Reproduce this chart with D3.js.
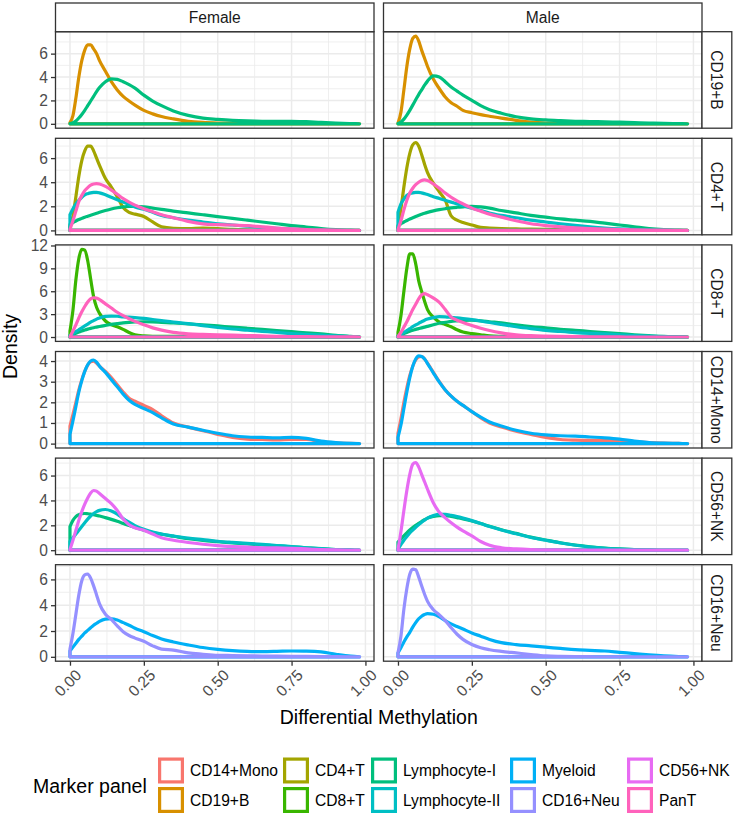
<!DOCTYPE html>
<html>
<head>
<meta charset="utf-8">
<script src="https://cdn.jsdelivr.net/npm/d3@7"></script>
<style>
  html, body { margin: 0; padding: 0; background: #fff; }
  svg { display: block; font-family: "Liberation Sans", Arial, sans-serif; }
</style>
</head>
<body>
<svg id="chart" width="735" height="815"></svg>
<script>
// ---------------- DATA ----------------
const sexes = ["Female", "Male"];
const markerPanels = ["CD19+B", "CD4+T", "CD8+T", "CD14+Mono", "CD56+NK", "CD16+Neu"];
const groups = ["CD14+Mono", "CD19+B", "CD4+T", "CD8+T", "Lymphocyte-I", "Lymphocyte-II", "Myeloid", "CD16+Neu", "CD56+NK", "PanT"];
const groupColors = ["#F8766D", "#D89000", "#A3A500", "#39B600", "#00BF7D", "#00BFC4", "#00B0F6", "#9590FF", "#E76BF3", "#FF62BC"];
const xTicks = [0, 0.25, 0.5, 0.75, 1];
const xTickLabels = ["0.00", "0.25", "0.50", "0.75", "1.00"];
const yTicksByRow = [[0, 2, 4, 6], [0, 2, 4, 6], [0, 3, 6, 9, 12], [0, 1, 2, 3, 4], [0, 2, 4, 6], [0, 2, 4, 6]];

// shared x grid (differential methylation)
const xs = [0, .01, .02, .03, .04, .05, .06, .07, .08, .09, .10, .12, .14, .16, .18, .20, .22, .25, .28, .31, .35, .40, .45, .50, .55, .60, .65, .70, .75, .80, .85, .90, .95, .98];

// Row CD19+B
const F1_CD19B = [0.1, 0.7, 2.2, 4.0, 5.4, 6.3, 6.75, 6.75, 6.4, 6.0, 5.4, 4.5, 3.6, 2.9, 2.35, 1.95, 1.6, 1.15, 0.85, 0.62, 0.42, 0.22, 0.12, 0.07, 0.05, 0.04, 0.03, 0.03, 0.02, 0.02, 0.01, 0.01, 0, 0];
const F1_LymI  = [0.02, 0.1, 0.25, 0.5, 0.8, 1.15, 1.55, 1.95, 2.35, 2.75, 3.1, 3.6, 3.85, 3.8, 3.6, 3.35, 3.05, 2.45, 1.95, 1.55, 1.1, 0.72, 0.48, 0.38, 0.3, 0.25, 0.22, 0.2, 0.22, 0.18, 0.12, 0.06, 0.02, 0];
const M1_CD19B = [0.05, 1.0, 2.9, 4.9, 6.4, 7.3, 7.5, 7.1, 6.3, 5.6, 4.9, 3.8, 3.0, 2.3, 1.8, 1.5, 1.15, 0.95, 0.78, 0.65, 0.48, 0.3, 0.15, 0.07, 0.05, 0.04, 0.03, 0.03, 0.02, 0.02, 0.01, 0.01, 0, 0];
const M1_LymI  = [0.02, 0.15, 0.4, 0.75, 1.15, 1.6, 2.05, 2.5, 2.9, 3.3, 3.65, 4.1, 4.0, 3.6, 3.15, 2.8, 2.45, 2.0, 1.55, 1.2, 0.9, 0.6, 0.42, 0.33, 0.27, 0.22, 0.19, 0.17, 0.14, 0.1, 0.07, 0.04, 0.02, 0];

// Row CD4+T
const F2_CD4T  = [0.3, 1.2, 2.8, 4.5, 5.8, 6.6, 7.0, 7.0, 6.6, 6.0, 5.4, 4.3, 3.6, 2.8, 1.9, 1.5, 1.35, 1.15, 0.7, 0.3, 0.18, 0.15, 0.2, 0.15, 0.08, 0.04, 0.02, 0.01, 0.01, 0, 0, 0, 0, 0];
const F2_LymI  = [0.5, 0.65, 0.78, 0.9, 1.0, 1.1, 1.18, 1.26, 1.34, 1.42, 1.5, 1.65, 1.78, 1.88, 1.95, 2.0, 2.0, 1.95, 1.85, 1.75, 1.6, 1.45, 1.3, 1.15, 1.0, 0.85, 0.7, 0.55, 0.4, 0.28, 0.15, 0.06, 0.02, 0];
const F2_LymII = [1.3, 1.8, 2.2, 2.5, 2.75, 2.95, 3.05, 3.12, 3.15, 3.16, 3.12, 2.95, 2.75, 2.55, 2.35, 2.15, 1.95, 1.75, 1.5, 1.25, 1.05, 0.85, 0.7, 0.55, 0.45, 0.35, 0.25, 0.17, 0.1, 0.05, 0.02, 0.01, 0, 0];
const F2_PanT  = [0.1, 0.8, 1.6, 2.4, 2.9, 3.3, 3.55, 3.75, 3.85, 3.88, 3.85, 3.65, 3.35, 3.0, 2.65, 2.35, 2.1, 1.8, 1.55, 1.3, 1.05, 0.75, 0.55, 0.48, 0.45, 0.4, 0.3, 0.2, 0.12, 0.07, 0.04, 0.02, 0.01, 0];
const M2_CD4T  = [0.2, 1.8, 3.6, 5.2, 6.4, 7.1, 7.28, 7.0, 6.3, 5.5, 4.8, 3.9, 3.2, 2.5, 1.2, 0.85, 0.65, 0.45, 0.25, 0.2, 0.15, 0.12, 0.1, 0.08, 0.06, 0.04, 0.03, 0.02, 0.01, 0, 0, 0, 0, 0];
const M2_LymI  = [0.4, 0.55, 0.7, 0.82, 0.95, 1.05, 1.15, 1.25, 1.35, 1.43, 1.5, 1.62, 1.72, 1.8, 1.87, 1.92, 1.96, 2.0, 1.95, 1.85, 1.65, 1.45, 1.25, 1.1, 0.95, 0.85, 0.75, 0.6, 0.45, 0.3, 0.15, 0.06, 0.02, 0];
const M2_LymII = [1.5, 2.2, 2.6, 2.9, 3.05, 3.12, 3.15, 3.16, 3.12, 3.05, 2.98, 2.8, 2.65, 2.5, 2.35, 2.2, 2.05, 1.85, 1.65, 1.45, 1.25, 1.05, 0.85, 0.7, 0.55, 0.42, 0.3, 0.2, 0.13, 0.08, 0.04, 0.02, 0.01, 0];
const M2_PanT  = [0.05, 0.8, 1.7, 2.5, 3.1, 3.5, 3.8, 4.0, 4.15, 4.2, 4.15, 3.85, 3.5, 3.1, 2.75, 2.45, 2.2, 1.85, 1.6, 1.35, 1.1, 0.8, 0.55, 0.4, 0.3, 0.22, 0.15, 0.1, 0.07, 0.05, 0.03, 0.02, 0.01, 0];

// Row CD8+T
const F3_CD8T  = [0.8, 3.5, 7.5, 10.3, 11.5, 11.4, 10.0, 7.6, 5.3, 3.9, 3.1, 2.1, 1.6, 1.35, 1.0, 0.6, 0.3, 0.15, 0.1, 0.1, 0.08, 0.04, 0.02, 0.01, 0, 0, 0, 0, 0, 0, 0, 0, 0, 0];
const F3_LymI  = [0.2, 0.35, 0.5, 0.65, 0.8, 0.92, 1.03, 1.13, 1.22, 1.3, 1.38, 1.52, 1.65, 1.75, 1.85, 1.92, 1.97, 2.0, 1.98, 1.92, 1.85, 1.72, 1.6, 1.45, 1.3, 1.15, 1.0, 0.85, 0.7, 0.55, 0.4, 0.22, 0.08, 0];
const F3_LymII = [0.2, 0.45, 0.7, 0.95, 1.2, 1.45, 1.7, 1.95, 2.15, 2.35, 2.5, 2.7, 2.75, 2.72, 2.65, 2.6, 2.55, 2.45, 2.3, 2.15, 1.95, 1.75, 1.5, 1.25, 1.05, 0.9, 0.75, 0.6, 0.45, 0.35, 0.25, 0.14, 0.05, 0];
const F3_PanT  = [0.05, 0.8, 1.6, 2.5, 3.3, 4.0, 4.6, 5.0, 5.15, 5.1, 4.9, 4.35, 3.8, 3.25, 2.8, 2.4, 2.05, 1.6, 1.2, 0.9, 0.6, 0.42, 0.35, 0.3, 0.25, 0.2, 0.15, 0.1, 0.07, 0.05, 0.03, 0.02, 0.01, 0];
const M3_CD8T  = [0.6, 2.8, 6.0, 9.0, 10.9, 10.9, 9.6, 7.4, 6.0, 4.7, 3.6, 2.6, 1.95, 1.65, 1.35, 0.95, 0.65, 0.45, 0.3, 0.15, 0.08, 0.04, 0.02, 0.01, 0, 0, 0, 0, 0, 0, 0, 0, 0, 0];
const M3_LymI  = [0.15, 0.3, 0.45, 0.6, 0.75, 0.88, 1.0, 1.1, 1.2, 1.3, 1.4, 1.6, 1.8, 1.92, 2.05, 2.12, 2.18, 2.2, 2.12, 2.0, 1.85, 1.6, 1.38, 1.2, 1.02, 0.88, 0.72, 0.58, 0.45, 0.3, 0.18, 0.08, 0.03, 0];
const M3_LymII = [0.1, 0.35, 0.6, 0.85, 1.1, 1.35, 1.58, 1.8, 2.0, 2.2, 2.35, 2.55, 2.67, 2.65, 2.58, 2.5, 2.42, 2.28, 2.1, 1.9, 1.65, 1.35, 1.1, 0.88, 0.72, 0.58, 0.48, 0.42, 0.3, 0.2, 0.12, 0.06, 0.02, 0];
const M3_PanT  = [0.05, 0.6, 1.3, 2.0, 2.8, 3.6, 4.3, 5.0, 5.5, 5.68, 5.55, 5.1, 4.55, 3.6, 2.6, 2.2, 1.9, 1.5, 1.15, 0.85, 0.55, 0.3, 0.18, 0.12, 0.08, 0.05, 0.03, 0.02, 0.01, 0, 0, 0, 0, 0];

// Row CD14+Mono
const F4_CD14  = [0.85, 1.4, 2.0, 2.6, 3.1, 3.5, 3.8, 3.97, 4.0, 3.9, 3.75, 3.5, 3.2, 2.85, 2.5, 2.2, 2.05, 1.85, 1.65, 1.35, 1.0, 0.8, 0.62, 0.45, 0.3, 0.22, 0.2, 0.18, 0.2, 0.2, 0.1, 0.04, 0.01, 0];
const F4_Mye   = [0.45, 1.1, 1.8, 2.5, 3.05, 3.5, 3.82, 4.0, 4.05, 3.95, 3.75, 3.45, 3.1, 2.75, 2.4, 2.1, 1.9, 1.7, 1.5, 1.25, 0.95, 0.8, 0.65, 0.5, 0.38, 0.32, 0.3, 0.28, 0.3, 0.25, 0.12, 0.05, 0.01, 0];
const M4_CD14  = [0.5, 1.2, 2.0, 2.7, 3.3, 3.75, 4.05, 4.2, 4.22, 4.1, 3.9, 3.45, 3.0, 2.6, 2.3, 2.05, 1.85, 1.55, 1.25, 1.0, 0.8, 0.6, 0.45, 0.3, 0.2, 0.17, 0.16, 0.16, 0.14, 0.1, 0.05, 0.02, 0.01, 0];
const M4_Mye   = [0.3, 0.9, 1.7, 2.5, 3.2, 3.75, 4.1, 4.25, 4.22, 4.1, 3.88, 3.42, 2.98, 2.6, 2.3, 2.05, 1.85, 1.55, 1.28, 1.05, 0.85, 0.65, 0.5, 0.42, 0.38, 0.36, 0.32, 0.28, 0.22, 0.12, 0.05, 0.02, 0.01, 0];

// Row CD56+NK
const F5_LymI  = [1.9, 2.4, 2.7, 2.85, 2.93, 2.95, 2.93, 2.9, 2.85, 2.8, 2.75, 2.62, 2.48, 2.32, 2.15, 1.98, 1.82, 1.6, 1.42, 1.28, 1.12, 0.92, 0.78, 0.68, 0.58, 0.5, 0.42, 0.35, 0.28, 0.2, 0.12, 0.05, 0.02, 0];
const F5_LymII = [0.7, 1.0, 1.3, 1.6, 1.9, 2.2, 2.5, 2.75, 2.95, 3.1, 3.2, 3.27, 3.15, 2.9, 2.55, 2.25, 1.98, 1.68, 1.45, 1.3, 1.15, 0.98, 0.85, 0.72, 0.63, 0.55, 0.47, 0.38, 0.3, 0.2, 0.12, 0.05, 0.02, 0];
const F5_CD56  = [0.05, 0.8, 1.6, 2.4, 3.1, 3.7, 4.2, 4.6, 4.8, 4.75, 4.55, 4.15, 3.75, 3.2, 2.5, 2.05, 1.8, 1.6, 1.3, 1.0, 0.8, 0.62, 0.48, 0.37, 0.3, 0.25, 0.2, 0.18, 0.15, 0.1, 0.05, 0.02, 0.01, 0];
const M5_LymI  = [0.65, 0.9, 1.15, 1.4, 1.62, 1.82, 2.0, 2.15, 2.3, 2.45, 2.58, 2.72, 2.78, 2.78, 2.72, 2.62, 2.52, 2.35, 2.15, 1.92, 1.65, 1.35, 1.05, 0.82, 0.6, 0.42, 0.28, 0.17, 0.1, 0.05, 0.02, 0.01, 0, 0];
const M5_LymII = [0.1, 0.45, 0.8, 1.1, 1.38, 1.62, 1.85, 2.05, 2.25, 2.42, 2.58, 2.78, 2.88, 2.88, 2.8, 2.7, 2.58, 2.38, 2.15, 1.9, 1.62, 1.32, 1.02, 0.8, 0.58, 0.4, 0.25, 0.15, 0.08, 0.04, 0.02, 0.01, 0, 0];
const M5_CD56  = [0.05, 1.5, 3.2, 4.8, 6.1, 6.9, 7.05, 6.7, 6.1, 5.5, 4.9, 3.8, 3.05, 2.6, 2.2, 1.85, 1.55, 1.15, 0.7, 0.4, 0.2, 0.1, 0.05, 0.03, 0.02, 0.01, 0, 0, 0, 0, 0, 0, 0, 0];

// Row CD16+Neu
const F6_Mye   = [0.45, 0.75, 1.05, 1.35, 1.6, 1.85, 2.05, 2.25, 2.45, 2.6, 2.75, 2.92, 2.95, 2.85, 2.65, 2.45, 2.22, 1.95, 1.65, 1.38, 1.15, 0.92, 0.72, 0.58, 0.48, 0.42, 0.4, 0.42, 0.45, 0.44, 0.38, 0.2, 0.05, 0];
const F6_CD16  = [0.6, 1.8, 3.3, 4.8, 5.9, 6.35, 6.42, 6.1, 5.5, 4.8, 4.1, 3.3, 2.9, 2.4, 1.95, 1.65, 1.45, 1.2, 0.85, 0.6, 0.52, 0.3, 0.2, 0.12, 0.1, 0.08, 0.06, 0.05, 0.04, 0.03, 0.02, 0.01, 0, 0];
const M6_Mye   = [0.3, 0.7, 1.15, 1.55, 1.9, 2.3, 2.65, 2.95, 3.15, 3.28, 3.35, 3.3, 3.1, 2.8, 2.55, 2.35, 2.15, 1.85, 1.6, 1.35, 1.1, 0.95, 0.85, 0.75, 0.65, 0.55, 0.5, 0.45, 0.35, 0.25, 0.15, 0.07, 0.02, 0];
const M6_CD16  = [0.3, 1.6, 3.7, 5.3, 6.4, 6.8, 6.75, 6.2, 5.5, 4.85, 4.3, 3.65, 3.25, 2.8, 2.25, 1.75, 1.35, 0.95, 0.7, 0.55, 0.42, 0.3, 0.18, 0.08, 0.04, 0.02, 0.01, 0, 0, 0, 0, 0, 0, 0];

// Which groups appear in which panel (drawing order = factor order)
const series = [
  { row: "CD19+B", sex: "Female", group: "CD19+B", values: F1_CD19B },
  { row: "CD19+B", sex: "Female", group: "Lymphocyte-I", values: F1_LymI },
  { row: "CD19+B", sex: "Male", group: "CD19+B", values: M1_CD19B },
  { row: "CD19+B", sex: "Male", group: "Lymphocyte-I", values: M1_LymI },
  { row: "CD4+T", sex: "Female", group: "CD4+T", values: F2_CD4T },
  { row: "CD4+T", sex: "Female", group: "Lymphocyte-I", values: F2_LymI },
  { row: "CD4+T", sex: "Female", group: "Lymphocyte-II", values: F2_LymII },
  { row: "CD4+T", sex: "Female", group: "PanT", values: F2_PanT },
  { row: "CD4+T", sex: "Male", group: "CD4+T", values: M2_CD4T },
  { row: "CD4+T", sex: "Male", group: "Lymphocyte-I", values: M2_LymI },
  { row: "CD4+T", sex: "Male", group: "Lymphocyte-II", values: M2_LymII },
  { row: "CD4+T", sex: "Male", group: "PanT", values: M2_PanT },
  { row: "CD8+T", sex: "Female", group: "CD8+T", values: F3_CD8T },
  { row: "CD8+T", sex: "Female", group: "Lymphocyte-I", values: F3_LymI },
  { row: "CD8+T", sex: "Female", group: "Lymphocyte-II", values: F3_LymII },
  { row: "CD8+T", sex: "Female", group: "PanT", values: F3_PanT },
  { row: "CD8+T", sex: "Male", group: "CD8+T", values: M3_CD8T },
  { row: "CD8+T", sex: "Male", group: "Lymphocyte-I", values: M3_LymI },
  { row: "CD8+T", sex: "Male", group: "Lymphocyte-II", values: M3_LymII },
  { row: "CD8+T", sex: "Male", group: "PanT", values: M3_PanT },
  { row: "CD14+Mono", sex: "Female", group: "CD14+Mono", values: F4_CD14 },
  { row: "CD14+Mono", sex: "Female", group: "Myeloid", values: F4_Mye },
  { row: "CD14+Mono", sex: "Male", group: "CD14+Mono", values: M4_CD14 },
  { row: "CD14+Mono", sex: "Male", group: "Myeloid", values: M4_Mye },
  { row: "CD56+NK", sex: "Female", group: "Lymphocyte-I", values: F5_LymI },
  { row: "CD56+NK", sex: "Female", group: "Lymphocyte-II", values: F5_LymII },
  { row: "CD56+NK", sex: "Female", group: "CD56+NK", values: F5_CD56 },
  { row: "CD56+NK", sex: "Male", group: "Lymphocyte-I", values: M5_LymI },
  { row: "CD56+NK", sex: "Male", group: "Lymphocyte-II", values: M5_LymII },
  { row: "CD56+NK", sex: "Male", group: "CD56+NK", values: M5_CD56 },
  { row: "CD16+Neu", sex: "Female", group: "Myeloid", values: F6_Mye },
  { row: "CD16+Neu", sex: "Female", group: "CD16+Neu", values: F6_CD16 },
  { row: "CD16+Neu", sex: "Male", group: "Myeloid", values: M6_Mye },
  { row: "CD16+Neu", sex: "Male", group: "CD16+Neu", values: M6_CD16 }
];

// ---------------- LAYOUT ----------------
const svg = d3.select("#chart");
const FONT_AXIS = 15.6, FONT_TITLE = 19.5;
const panelW = 318.5, panelH = 96.5;
const colX = [55.5, 383.5];
const rowTop0 = 31.7, rowPitch = 106.6;
const stripTop = 3, stripH = rowTop0 - stripTop;
const stripRW = 29.8;
const color = d3.scaleOrdinal().domain(groups).range(groupColors);

const xMin = d3.min(xs), xMax = d3.max(xs);
const xPad = (xMax - xMin) * 0.05;

svg.append("rect").attr("width", 735).attr("height", 815).attr("fill", "#fff");

markerPanels.forEach((rowName, r) => {
  const top = rowTop0 + r * rowPitch;
  const rowSeries = series.filter(s => s.row === rowName);
  const yMax = d3.max(rowSeries, s => d3.max(s.values));
  const y = d3.scaleLinear().domain([-0.05 * yMax, 1.05 * yMax]).range([top + panelH, top]);
  const majors = yTicksByRow[r];
  const step = majors[1] - majors[0];
  const minorsY = d3.range(majors[0] - step / 2, majors[majors.length - 1] + step, step)
    .filter(v => v > y.domain()[0] && v < y.domain()[1]);

  sexes.forEach((sex, c) => {
    const left = colX[c];
    const x = d3.scaleLinear().domain([xMin - xPad, xMax + xPad]).range([left, left + panelW]);
    const minorsX = [0.125, 0.375, 0.625, 0.875];
    const g = svg.append("g");
    g.append("rect").attr("x", left).attr("y", top).attr("width", panelW).attr("height", panelH).attr("fill", "#fff");
    // minor grid
    g.selectAll(".mx").data(minorsX).join("line")
      .attr("x1", d => x(d)).attr("x2", d => x(d)).attr("y1", top).attr("y2", top + panelH)
      .attr("stroke", "#EBEBEB").attr("stroke-width", 0.8);
    g.selectAll(".my").data(minorsY).join("line")
      .attr("x1", left).attr("x2", left + panelW).attr("y1", d => y(d)).attr("y2", d => y(d))
      .attr("stroke", "#EBEBEB").attr("stroke-width", 0.8);
    // major grid
    g.selectAll(".Mx").data(xTicks).join("line")
      .attr("x1", d => x(d)).attr("x2", d => x(d)).attr("y1", top).attr("y2", top + panelH)
      .attr("stroke", "#EBEBEB").attr("stroke-width", 1.5);
    g.selectAll(".My").data(majors).join("line")
      .attr("x1", left).attr("x2", left + panelW).attr("y1", d => y(d)).attr("y2", d => y(d))
      .attr("stroke", "#EBEBEB").attr("stroke-width", 1.5);

    // density polygons
    const line = d3.line().x(d => x(d[0])).y(d => y(d[1])).curve(d3.curveMonotoneX);
    rowSeries.filter(s => s.sex === sex).forEach(s => {
      const pts = xs.map((xv, i) => [xv, s.values[i]]);
      const top_ = line(pts);
      const d = `M${x(xs[0])},${y(0)}L` + top_.slice(1) + `L${x(xs[xs.length - 1])},${y(0)}Z`;
      g.append("path").attr("d", d).attr("fill", "none")
        .attr("stroke", color(s.group)).attr("stroke-width", 3.2)
        .attr("stroke-linejoin", "round");
    });

    // border
    g.append("rect").attr("x", left).attr("y", top).attr("width", panelW).attr("height", panelH)
      .attr("fill", "none").attr("stroke", "#333333").attr("stroke-width", 1.3);

    // y-axis only on first column
    if (c === 0) {
      const ax = svg.append("g").attr("transform", `translate(${left},0)`)
        .call(d3.axisLeft(y).tickValues(majors).tickSize(4.5).tickPadding(3).tickFormat(d3.format("d")));
      ax.select(".domain").remove();
      ax.selectAll(".tick line").attr("stroke", "#333333").attr("stroke-width", 1.3);
      ax.selectAll(".tick text").attr("fill", "#4D4D4D").style("font-size", FONT_AXIS + "px")
        .style("font-family", "'Liberation Sans', Arial, sans-serif");
    }
    // x-axis on bottom row
    if (r === markerPanels.length - 1) {
      const ax = svg.append("g").attr("transform", `translate(0,${top + panelH})`)
        .call(d3.axisBottom(x).tickValues(xTicks).tickSize(4.5).tickFormat((d, i) => xTickLabels[i]));
      ax.select(".domain").remove();
      ax.selectAll(".tick line").attr("stroke", "#333333").attr("stroke-width", 1.3);
      ax.selectAll(".tick text")
        .attr("fill", "#4D4D4D").style("font-size", FONT_AXIS + "px")
        .style("font-family", "'Liberation Sans', Arial, sans-serif")
        .attr("text-anchor", "end")
        .attr("transform", "translate(4,7) rotate(-45)")
        .attr("y", 0).attr("dy", "0.72em").attr("x", 0);
    }
    // top strips
    if (r === 0) {
      svg.append("rect").attr("x", left).attr("y", stripTop).attr("width", panelW).attr("height", stripH)
        .attr("fill", "#fff").attr("stroke", "#333333").attr("stroke-width", 1.3);
      svg.append("text").attr("x", left + panelW / 2).attr("y", stripTop + stripH / 2)
        .attr("dy", "0.36em").attr("text-anchor", "middle").attr("fill", "#1A1A1A")
        .style("font-size", FONT_AXIS + "px").text(sex);
    }
  });

  // right strip
  const sx = colX[1] + panelW;
  svg.append("rect").attr("x", sx).attr("y", top).attr("width", stripRW).attr("height", panelH)
    .attr("fill", "#fff").attr("stroke", "#333333").attr("stroke-width", 1.3);
  svg.append("text").attr("transform", `translate(${sx + stripRW / 2},${top + panelH / 2}) rotate(90)`)
    .attr("dy", "0.36em").attr("text-anchor", "middle").attr("fill", "#1A1A1A")
    .style("font-size", FONT_AXIS + "px").text(rowName);
});

// axis titles
const plotMidY = rowTop0 + (5 * rowPitch + panelH) / 2;
svg.append("text").attr("transform", `translate(17,${plotMidY}) rotate(-90)`)
  .attr("text-anchor", "middle").style("font-size", FONT_TITLE + "px").attr("fill", "#000").text("Density");
svg.append("text").attr("x", (colX[0] + colX[1] + panelW) / 2).attr("y", 724)
  .attr("text-anchor", "middle").style("font-size", FONT_TITLE + "px").attr("fill", "#000").text("Differential Methylation");

// legend
const legendTitle = "Marker panel";
const legendColX = [158, 283, 371, 510, 627];
const legendRowY = [757.5, 787];
svg.append("text").attr("x", 33).attr("y", 793).style("font-size", FONT_TITLE + "px").attr("fill", "#000").text(legendTitle);
groups.forEach((gname, i) => {
  const col = Math.floor(i / 2), row = i % 2;
  const kx = legendColX[col], ky = legendRowY[row];
  svg.append("rect").attr("x", kx + 1.6).attr("y", ky + 1.6).attr("width", 22.8).attr("height", 22.8)
    .attr("fill", "#fff").attr("stroke", color(gname)).attr("stroke-width", 3.2);
  svg.append("text").attr("x", kx + 32).attr("y", ky + 13).attr("dy", "0.36em")
    .style("font-size", FONT_AXIS + "px").attr("fill", "#000").text(gname);
});
</script>
</body>
</html>
